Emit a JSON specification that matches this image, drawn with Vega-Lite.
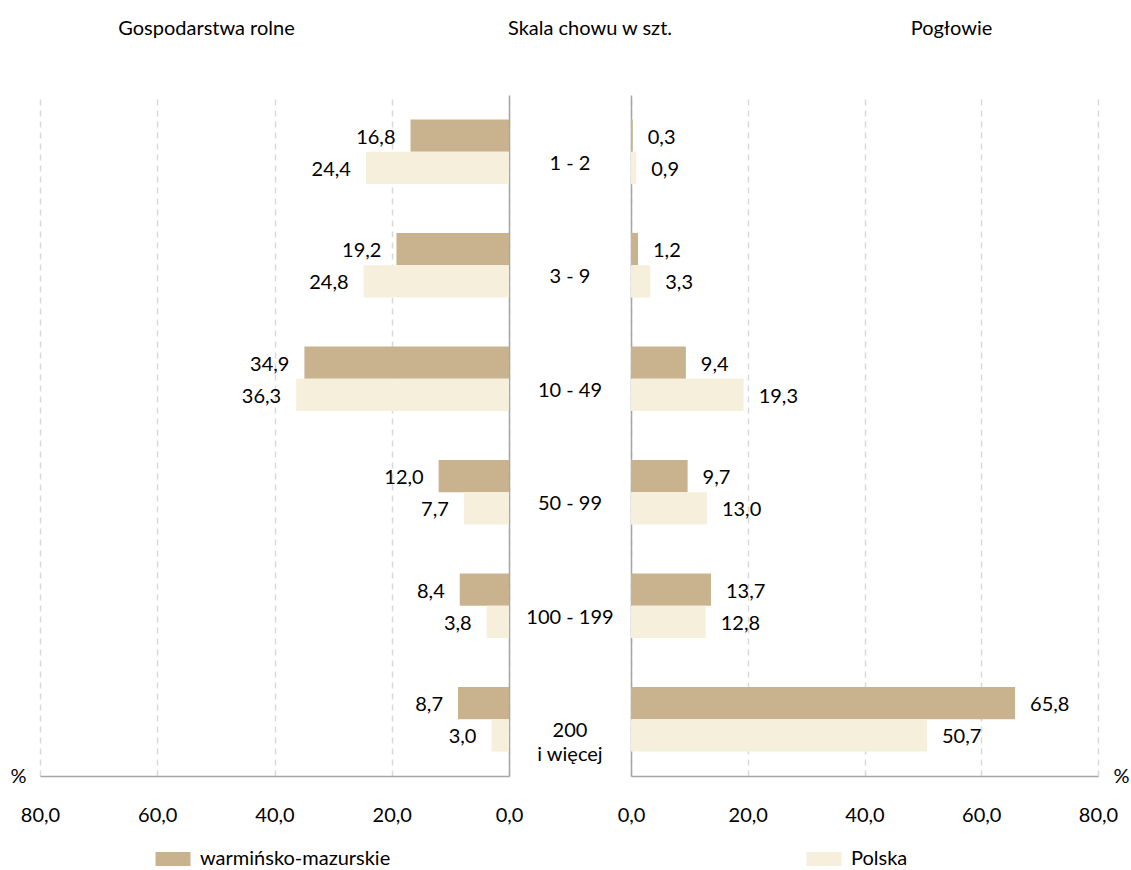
{
  "$schema": "https://vega.github.io/schema/vega-lite/v6.json",
  "padding": {"left": 9, "top": 19, "right": 0, "bottom": 0},
  "bounds": "flush",
  "spacing": 0,
  "config": {
    "font": "Lato",
    "view": {"stroke": null},
    "locale": {"number": {"decimal": ",", "thousands": " ", "grouping": [3], "currency": ["", " zł"]}},
    "title": {"fontSize": 20, "fontWeight": "normal", "color": "#000000", "baseline": "alphabetic", "offset": 56},
    "axis": {"labelFont": "Lato", "labelFontSize": 20, "labelColor": "#000000", "titleFont": "Lato", "titleFontSize": 20, "titleFontWeight": "normal", "titleColor": "#000000", "domainColor": "#A6A6A6", "domainWidth": 1.5, "gridColor": "#D9D9D9", "gridWidth": 1.5, "gridDash": [6, 5], "ticks": false}
  },
  "data": {
    "values": [
      {"kat": "1 - 2", "seria": "warmińsko-mazurskie", "gosp": 16.8, "poglowie": 0.3},
      {"kat": "1 - 2", "seria": "Polska", "gosp": 24.4, "poglowie": 0.9},
      {"kat": "3 - 9", "seria": "warmińsko-mazurskie", "gosp": 19.2, "poglowie": 1.2},
      {"kat": "3 - 9", "seria": "Polska", "gosp": 24.8, "poglowie": 3.3},
      {"kat": "10 - 49", "seria": "warmińsko-mazurskie", "gosp": 34.9, "poglowie": 9.4},
      {"kat": "10 - 49", "seria": "Polska", "gosp": 36.3, "poglowie": 19.3},
      {"kat": "50 - 99", "seria": "warmińsko-mazurskie", "gosp": 12.0, "poglowie": 9.7},
      {"kat": "50 - 99", "seria": "Polska", "gosp": 7.7, "poglowie": 13.0},
      {"kat": "100 - 199", "seria": "warmińsko-mazurskie", "gosp": 8.4, "poglowie": 13.7},
      {"kat": "100 - 199", "seria": "Polska", "gosp": 3.8, "poglowie": 12.8},
      {"kat": "200\ni więcej", "seria": "warmińsko-mazurskie", "gosp": 8.7, "poglowie": 65.8},
      {"kat": "200\ni więcej", "seria": "Polska", "gosp": 3.0, "poglowie": 50.7}
    ]
  },
  "hconcat": [
    {
      "width": 469,
      "height": 681,
      "title": {"text": "Gospodarstwa rolne", "dx": -68},
      "encoding": {
        "y": {"field": "kat", "type": "nominal", "sort": null, "scale": {"paddingInner": 0.43, "paddingOuter": 0.215}, "axis": {"orient": "right", "labels": false, "title": null, "grid": false, "domain": true}},
        "yOffset": {"field": "seria", "type": "nominal", "sort": ["warmińsko-mazurskie", "Polska"]},
        "x": {"field": "gosp", "type": "quantitative", "scale": {"domain": [0, 80], "reverse": true, "nice": false}, "axis": {"values": [0, 20, 40, 60, 80], "format": ".1f", "labelPadding": 39, "labelBaseline": "middle", "grid": true, "title": "%", "titleX": -22, "titleY": 0, "titleBaseline": "middle", "titleAlign": "center", "titleAngle": 0, "labelFlush": false}}
      },
      "layer": [
        {
          "mark": {"type": "bar"},
          "encoding": {
            "color": {"field": "seria", "type": "nominal", "scale": {"domain": ["warmińsko-mazurskie", "Polska"], "range": ["#C9B38E", "#F5EFDC"]}, "legend": {"orient": "none", "legendX": 123, "legendY": 754, "direction": "horizontal", "columns": 2, "columnPadding": 415, "title": null, "padding": 0, "symbolType": "M-1.75,-0.7H1.75V0.7H-1.75Z", "symbolSize": 400, "symbolStrokeWidth": 0, "labelOffset": 17, "labelFontSize": 20, "labelFont": "Lato", "labelColor": "#000000", "labelLimit": 400}}
          }
        },
        {
          "mark": {"type": "text", "align": "right", "baseline": "middle", "dx": -15, "dy": 2, "fontSize": 20, "color": "#000000"},
          "encoding": {"text": {"field": "gosp", "type": "quantitative", "format": ".1f"}}
        }
      ]
    },
    {
      "width": 122,
      "height": 681,
      "title": {"text": "Skala chowu w szt.", "dx": 20},
      "transform": [{"filter": "datum.seria === 'Polska'"}],
      "mark": {"type": "text", "lineBreak": "\n", "fontSize": 20, "baseline": "middle", "align": "center", "dy": 12, "color": "#000000", "lineHeight": 24},
      "encoding": {
        "y": {"field": "kat", "type": "nominal", "sort": null, "scale": {"paddingInner": 0.43, "paddingOuter": 0.215}, "axis": null},
        "text": {"field": "kat", "type": "nominal"}
      }
    },
    {
      "width": 467,
      "height": 681,
      "title": {"text": "Pogłowie", "dx": 87},
      "encoding": {
        "y": {"field": "kat", "type": "nominal", "sort": null, "scale": {"paddingInner": 0.43, "paddingOuter": 0.215}, "axis": {"orient": "left", "labels": false, "title": null, "grid": false, "domain": true}},
        "yOffset": {"field": "seria", "type": "nominal", "sort": ["warmińsko-mazurskie", "Polska"]},
        "x": {"field": "poglowie", "type": "quantitative", "scale": {"domain": [0, 80], "nice": false}, "axis": {"values": [0, 20, 40, 60, 80], "format": ".1f", "labelPadding": 39, "labelBaseline": "middle", "grid": true, "title": "%", "titleX": 490, "titleY": 0, "titleBaseline": "middle", "titleAlign": "center", "titleAngle": 0, "labelFlush": false}}
      },
      "layer": [
        {
          "mark": {"type": "bar"},
          "encoding": {
            "color": {"field": "seria", "type": "nominal", "legend": null}
          }
        },
        {
          "mark": {"type": "text", "align": "left", "baseline": "middle", "dx": 15, "dy": 2, "fontSize": 20, "color": "#000000"},
          "encoding": {"text": {"field": "poglowie", "type": "quantitative", "format": ".1f"}}
        }
      ]
    }
  ]
}
